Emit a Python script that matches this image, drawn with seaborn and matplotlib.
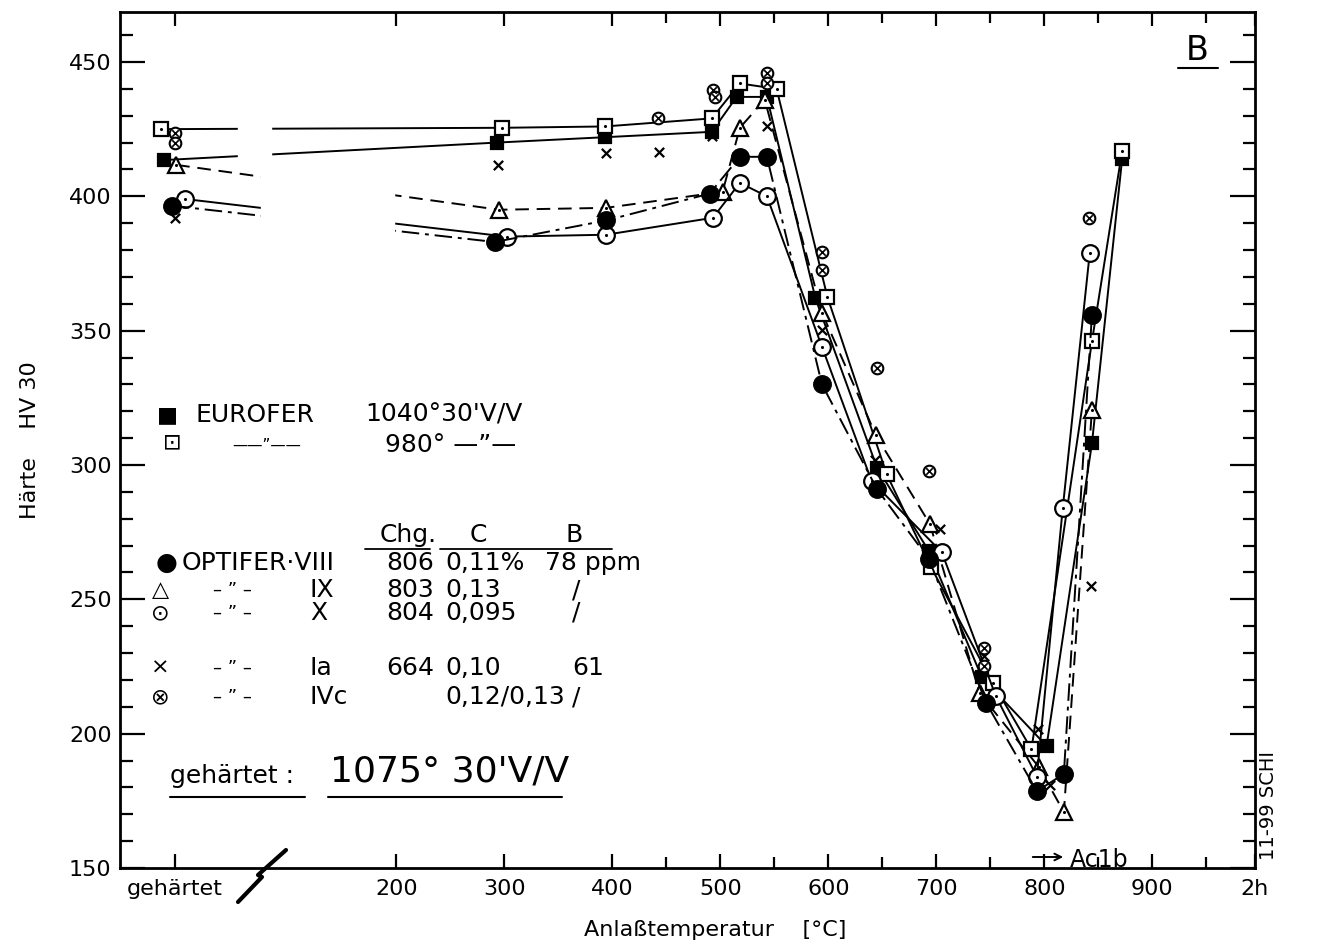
import matplotlib
matplotlib.use("Agg")
import matplotlib.pyplot as plt
import seaborn as sns
from matplotlib.patches import Rectangle
from matplotlib.lines import Line2D

# tempering temperature [°C] (gehärtet ~ -5) and hardness HV30
t_eu1040 = [-15, 293, 393, 492, 515, 543, 588, 645, 693, 742, 802, 844, 872]
hv_eu1040 = [413.5, 420, 422, 424, 437, 437, 362, 299, 268, 221, 195.4, 308, 414]

t_eu980 = [-18, 298, 393, 492, 518, 552, 599, 654, 695, 752, 788, 844, 872]
hv_eu980 = [425, 425.5, 426, 429, 442, 440, 362.6, 296.5, 262, 219, 194.2, 346, 417]

t_viii = [-8, 291, 394, 490, 518, 543, 594, 645, 693, 746, 793, 818, 844]
hv_viii = [396.5, 383, 391, 401, 414.7, 414.7, 330, 291, 265, 211.5, 178.6, 185, 356]

t_ix = [-4, 295, 394, 502, 518, 541, 594, 644, 694, 740, 795, 818, 844]
hv_ix = [411.7, 395, 395.7, 401.7, 425.5, 436, 356.7, 311, 278, 215, 187.5, 170.8, 320.6]

t_x = [4, 302, 394, 493, 518, 543, 594, 640, 705, 755, 793, 817, 842]
hv_x = [399, 385, 385.7, 392, 405, 400, 344, 294, 267.5, 214, 184, 284, 379]

t_ia = [-5, 294, 394, 443, 492, 543, 594, 643, 703, 744, 794, 805, 843]
hv_ia = [392, 411.7, 416, 416.5, 422.5, 426, 350.4, 302, 276, 229, 201.7, 181, 255]

t_ivc = [-5, -5, 442, 493, 495, 543, 543, 594, 594, 645, 693, 744, 744, 841]
hv_ivc = [423.6, 420, 429, 439.6, 437, 446, 442, 379.4, 372.7, 336, 297.6, 232, 225, 392]

x_ticks = [-5, 200, 300, 400, 500, 600, 700, 800, 900, 995]
x_labels = ["gehärtet", "200", "300", "400", "500", "600", "700", "800", "900", "2h"]
x_minor = [450, 550, 650, 750, 850, 950]
y_ticks = [150, 200, 250, 300, 350, 400, 450]

W, H = 1317, 946

sns.set_theme(style="ticks")
plt.rcParams['font.family'] = ['DejaVu Sans']
plt.rcParams['text.color'] = 'black'

fig = plt.figure(figsize=(W / 100, H / 100), dpi=100)
ax = fig.add_axes([120 / W, 1 - 868 / H, (1255 - 120) / W, (868 - 12) / H])


def fx(px):
    return px / W


def fy(py):
    return 1 - py / H


k = dict(ax=ax, color="black", sort=False, estimator=None, lw=1.4, markeredgecolor="black",
         markeredgewidth=1.6, legend=False)

# lines with markers
sns.lineplot(x=t_eu1040, y=hv_eu1040, marker="s", markersize=9, markerfacecolor="black", **k)
sns.lineplot(x=t_eu980, y=hv_eu980, marker="s", markersize=10, markerfacecolor="white", **k)
sns.lineplot(x=t_ix, y=hv_ix, marker="^", markersize=12, markerfacecolor="white",
             linestyle=(0, (7, 4)), **k)
sns.lineplot(x=t_x, y=hv_x, marker="o", markersize=12, markerfacecolor="white", **k)
sns.lineplot(x=t_viii, y=hv_viii, marker="o", markersize=12, markerfacecolor="black",
             linestyle=(0, (9, 3, 2, 3)), **k)

# dots inside the open symbols
for tx, hv in [(t_eu980, hv_eu980), (t_x, hv_x), (t_ix, hv_ix)]:
    sns.scatterplot(x=tx, y=hv, ax=ax, color="black", s=5, linewidth=0, zorder=4)

# single points without lines
sns.scatterplot(x=t_ia, y=hv_ia, ax=ax, marker="x", color="black", s=45, linewidth=1.6, zorder=4)
sns.scatterplot(x=t_ivc, y=hv_ivc, ax=ax, marker="o", facecolor="white", edgecolor="black",
                s=70, linewidth=1.5, zorder=4)
sns.scatterplot(x=t_ivc, y=hv_ivc, ax=ax, marker="x", color="black", s=22, linewidth=1.2, zorder=5)

# broken lines between gehärtet and 200
ax.add_patch(Rectangle((53, 413.2), 31, 14, color="white", zorder=2.5))
ax.add_patch(Rectangle((75, 378), 123, 32.8, color="white", zorder=2.5))

ax.set_xlim(-56, 995)
ax.set_ylim(150, 468.6)
ax.set_xticks(x_ticks)
ax.set_xticklabels(x_labels)
ax.set_xticks(x_minor, minor=True)
ax.set_yticks(y_ticks)
ax.set_yticks(range(150, 470, 10), minor=True)
ax.tick_params(which="both", direction="in", top=True, right=True, color="black",
               labelsize=16, labelcolor="black", width=1.6)
ax.tick_params(axis="y", which="major", length=18, pad=6)
ax.tick_params(axis="y", which="minor", length=9)
ax.tick_params(axis="x", which="major", length=10, pad=8)
ax.tick_params(axis="x", which="minor", length=8)
for sp in ax.spines.values():
    sp.set_linewidth(2)
    sp.set_color("black")
ax.set_xlabel("")
ax.set_ylabel("")

fig.text(fx(715), fy(930), "Anlaßtemperatur    [°C]", ha="center", va="center", fontsize=16)
fig.text(fx(30), fy(440), "Härte    HV 30", ha="center", va="center", rotation=90, fontsize=16)

# axis break mark
fig.add_artist(Line2D([fx(238), fx(262), fx(258), fx(286)], [fy(902), fy(877), fy(875), fy(850)],
                      color="black", lw=3))

# legend written as text
fs = 18
fig.text(fx(167), fy(415), "■", ha="center", va="center", fontsize=16)
fig.text(fx(195), fy(415), "EUROFER", va="center", fontsize=fs)
fig.text(fx(365), fy(415), "1040°30'V/V", va="center", fontsize=fs)
fig.text(fx(172), fy(442), "⊡", ha="center", va="center", fontsize=16)
fig.text(fx(232), fy(445), "——\u201d——", va="center", fontsize=11)
fig.text(fx(385), fy(445), "980° —\u201d—", va="center", fontsize=fs)

fig.text(fx(380), fy(535), "Chg.", va="center", fontsize=fs)
fig.text(fx(470), fy(535), "C", va="center", fontsize=fs)
fig.text(fx(565), fy(535), "B", va="center", fontsize=fs)
fig.add_artist(Line2D([fx(365), fx(430)], [fy(549), fy(549)], color="black", lw=1.3))
fig.add_artist(Line2D([fx(440), fx(612)], [fy(549), fy(549)], color="black", lw=1.3))

rows = [
    (563, "●", "OPTIFER·VIII", "806", "0,11%", "78 ppm"),
    (590, "△", "IX", "803", "0,13", "/"),
    (613, "⊙", "X", "804", "0,095", "/"),
    (668, "×", "Ia", "664", "0,10", "61"),
    (697, "⊗", "IVc", "", "0,12/0,13", "/"),
]
for i, (py, sym, name, chg, c, b) in enumerate(rows):
    if i == 0:
        fig.text(fx(167), fy(py), sym, ha="center", va="center", fontsize=18)
        fig.text(fx(182), fy(py), name, va="center", fontsize=fs)
    else:
        fig.text(fx(160), fy(py), sym, ha="center", va="center", fontsize=16)
        fig.text(fx(213), fy(py), "– \u201d –", va="center", fontsize=13)
        fig.text(fx(310), fy(py), name, va="center", fontsize=fs)
    fig.text(fx(386), fy(py), chg, va="center", fontsize=fs)
    fig.text(fx(445), fy(py), c, va="center", fontsize=fs)
    fig.text(fx(545) if b == "78 ppm" else fx(572), fy(py), b, va="center", fontsize=fs)

fig.text(fx(170), fy(776), "gehärtet :", va="center", fontsize=18)
fig.add_artist(Line2D([fx(170), fx(305)], [fy(797), fy(797)], color="black", lw=1.5))
fig.text(fx(330), fy(771), "1075° 30'V/V", va="center", fontsize=26)
fig.add_artist(Line2D([fx(328), fx(562)], [fy(797), fy(797)], color="black", lw=1.5))

fig.text(fx(1197), fy(50), "B", ha="center", va="center", fontsize=24)
fig.add_artist(Line2D([fx(1178), fx(1218)], [fy(68), fy(68)], color="black", lw=1.5))

fig.text(fx(1268), fy(805), "11-99 SCHI", ha="center", va="center", rotation=90, fontsize=14)
ax.annotate("", xy=(1066, H - 857), xytext=(1030, H - 857), xycoords="figure pixels",
            arrowprops=dict(arrowstyle="->", color="black", lw=1.4))
fig.text(fx(1070), fy(860), "Ac1b", va="center", fontsize=17)

fig.savefig("out.png", dpi=100)
